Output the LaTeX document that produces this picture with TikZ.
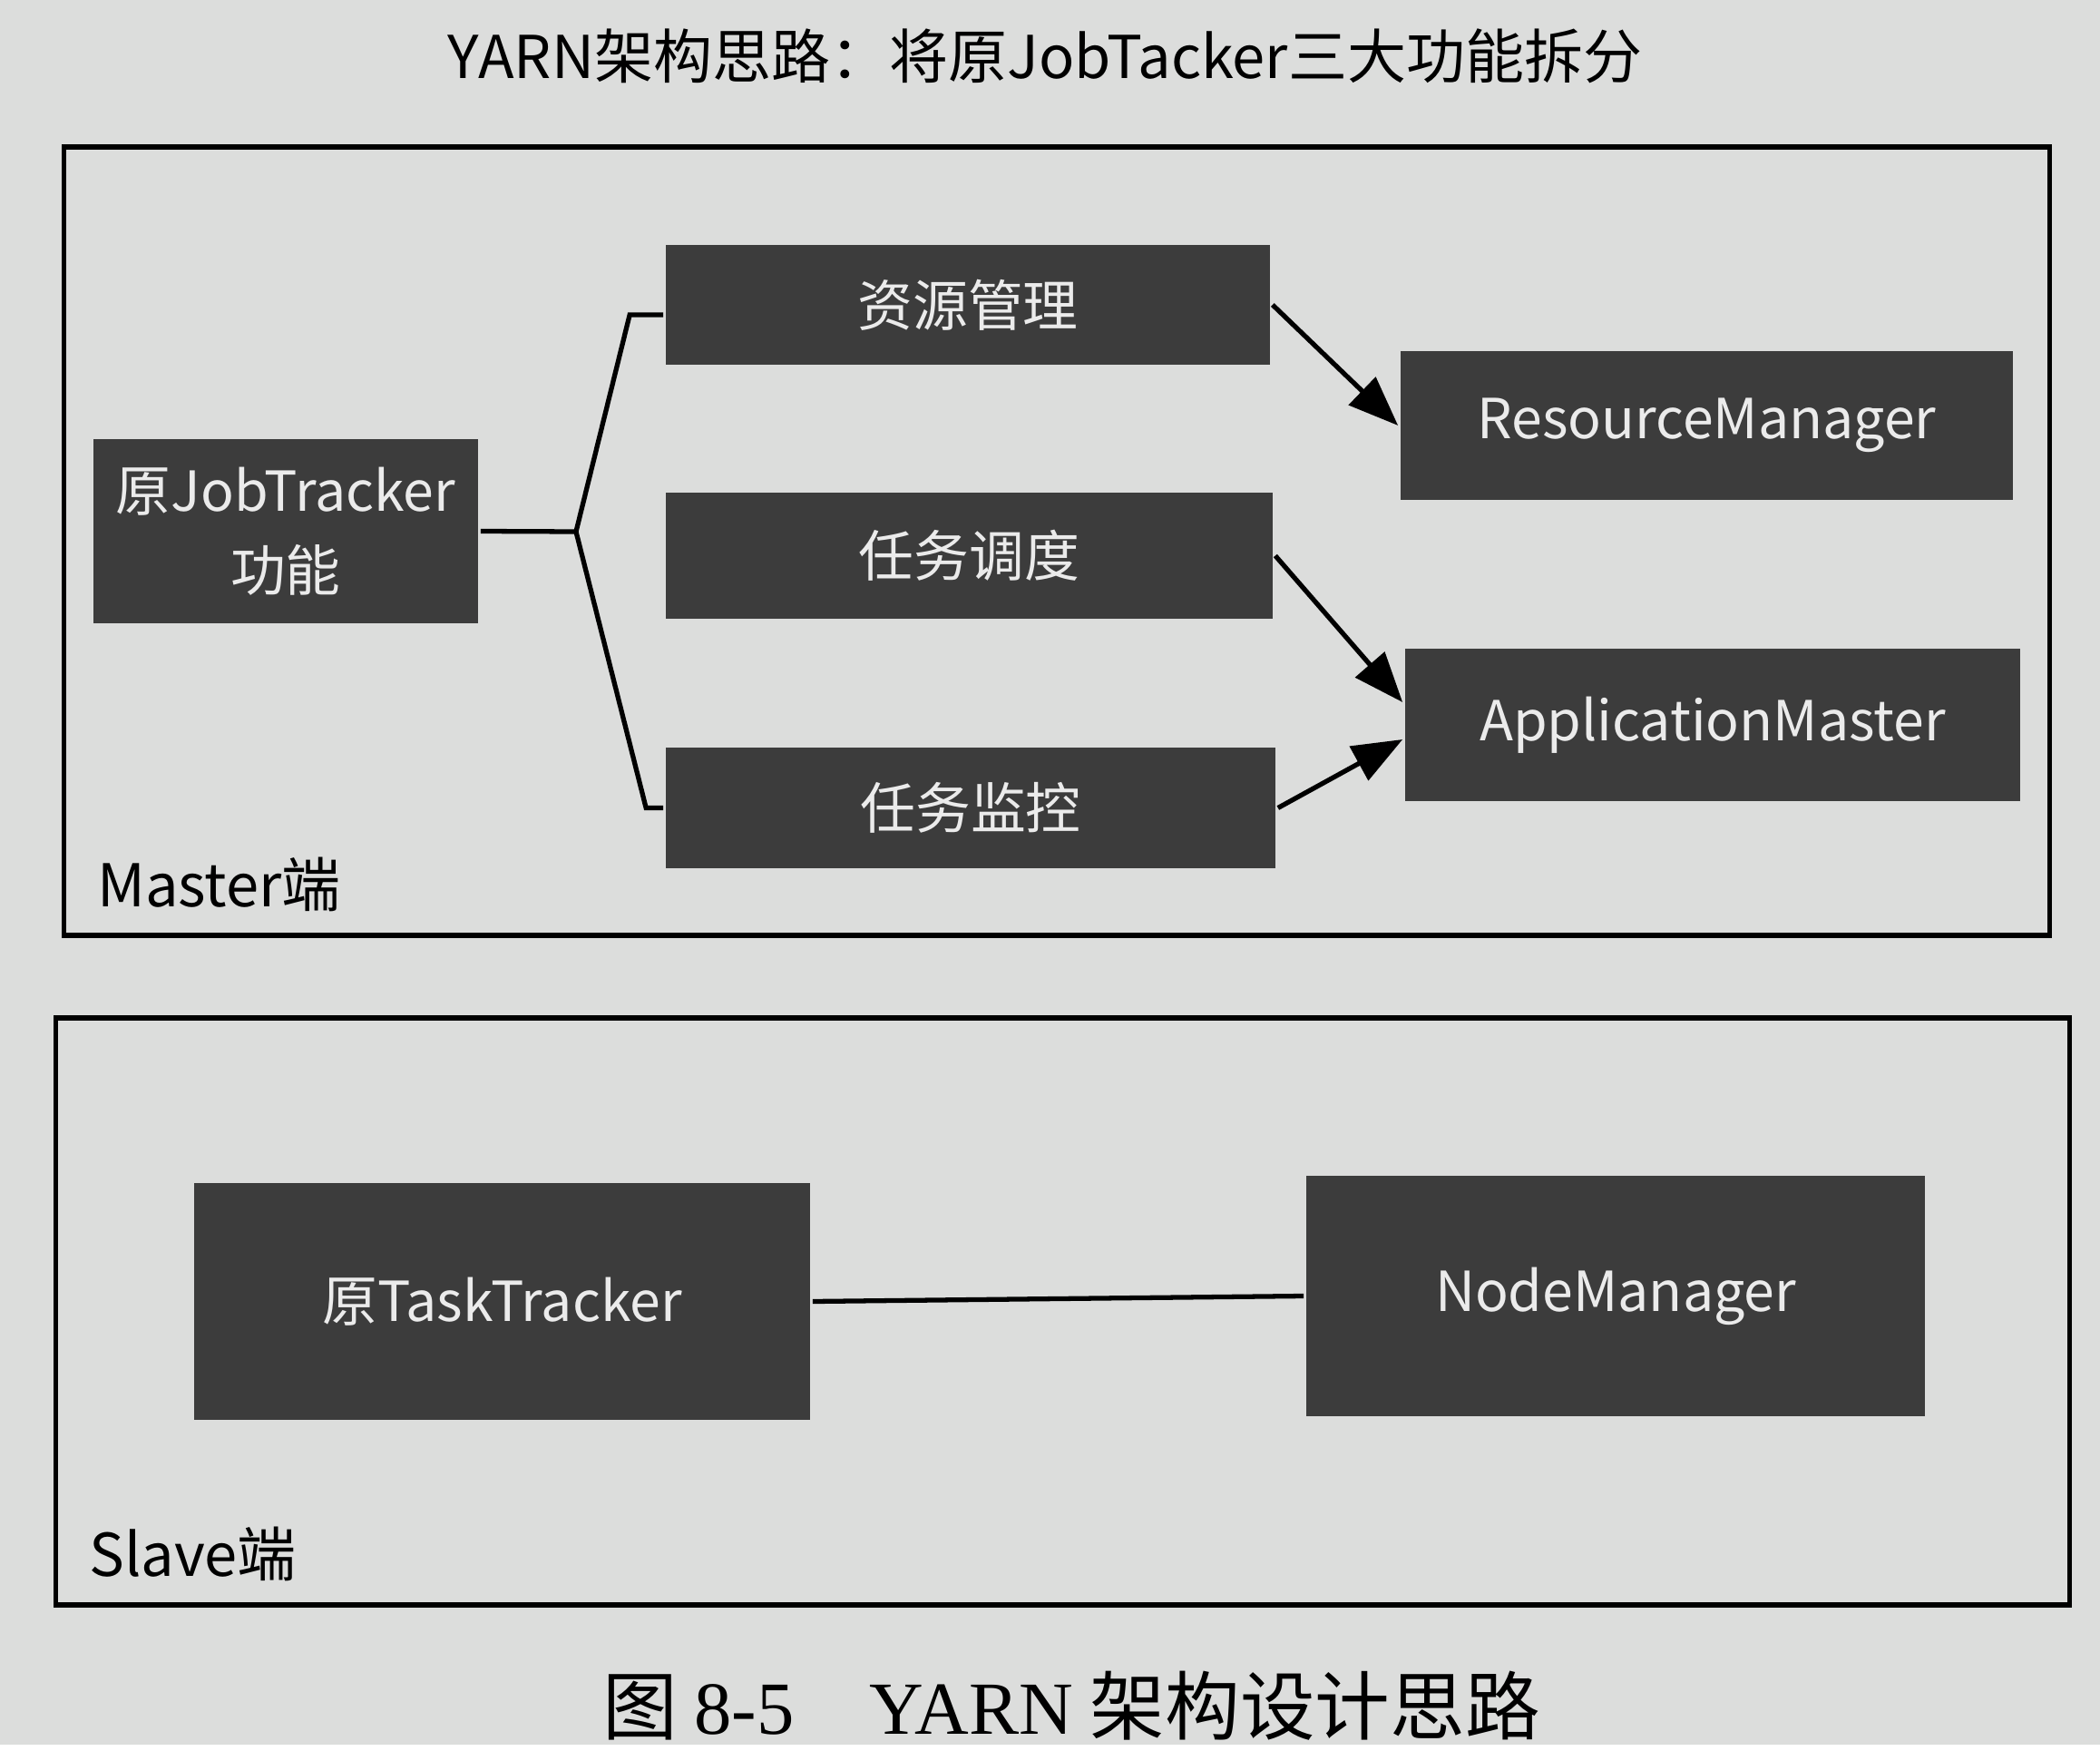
\documentclass[tikz,border=0pt]{standalone}
\usepackage{fontspec}
\setmainfont{Noto Sans CJK SC}
\newfontfamily\capserif{Liberation Serif}
\usetikzlibrary{arrows.meta}
\definecolor{paper}{HTML}{DCDDDC}
\definecolor{boxgray}{HTML}{3C3C3C}
\begin{document}
\begin{tikzpicture}[x=0.01cm, y=-0.01cm, line width=1.5pt, font=\fontsize{18.5}{24}\selectfont,
    main/.style={fill=boxgray, text=white!92!black, inner sep=0pt, align=center, font=\fontsize{17.3}{25}\selectfont},
    frame/.style={draw, line width=1.6pt},
    arr/.style={-{Triangle[length=0.55cm, width=0.42cm]}}]
            \fill[paper] (0,0) rectangle (2315,1923);
            \node (title) at (1152,62) {YARN架构思路：将原JobTacker三大功能拆分};
            \node[frame, minimum width=21.88cm, minimum height=8.69cm] (master) at (1165,596.5) {};
            \node[frame, minimum width=22.19cm, minimum height=6.47cm] (slave) at (1171.5,1445.5) {};
            \node[anchor=west] (masterlabel) at (93,975) {Master端};
            \node[anchor=west] (slavelabel) at (84,1713) {Slave端};
            \node[main, minimum width=4.24cm, minimum height=2.03cm] (jt) at (315,585.5) {原JobTracker\\功能};
            \node[main, minimum width=6.66cm, minimum height=1.32cm] (zy) at (1067,336) {资源管理};
            \node[main, minimum width=6.69cm, minimum height=1.39cm] (dd) at (1068.5,612.5) {任务调度};
            \node[main, minimum width=6.72cm, minimum height=1.33cm] (jk) at (1070,890.5) {任务监控};
            \node[main, minimum width=6.75cm, minimum height=1.64cm] (rm) at (1881.5,469) {ResourceManager};
            \node[main, minimum width=6.78cm, minimum height=1.68cm] (am) at (1888,799) {ApplicationMaster};
            \node[main, minimum width=6.79cm, minimum height=2.61cm] (tt) at (553.5,1434.5) {原TaskTracker};
            \node[main, minimum width=6.82cm, minimum height=2.65cm] (nm) at (1781,1428.5) {NodeManager};
            \coordinate (fork) at (635,586);
            \draw (jt.east) -- (fork);
            \draw (fork) -- ([xshift=-0.37cm, yshift=-0.11cm]zy.west) -- ([yshift=-0.11cm]zy.west);
            \draw (fork) -- ([xshift=-0.19cm]jk.west) -- (jk.west);
            \draw[arr] (zy.east) -- (rm.west);
            \draw[arr] (dd.east) -- ([yshift=0.25cm]am.west);
            \draw[arr] (jk.east) -- ([yshift=-0.16cm]am.west);
            \draw (tt.east) -- (nm.west);
            \node (caption) at (1181,1880) {\fontsize{23.5}{28}\selectfont 图 {\capserif 8-5}\quad{\capserif YARN} 架构设计思路};
\end{tikzpicture}
\end{document}
